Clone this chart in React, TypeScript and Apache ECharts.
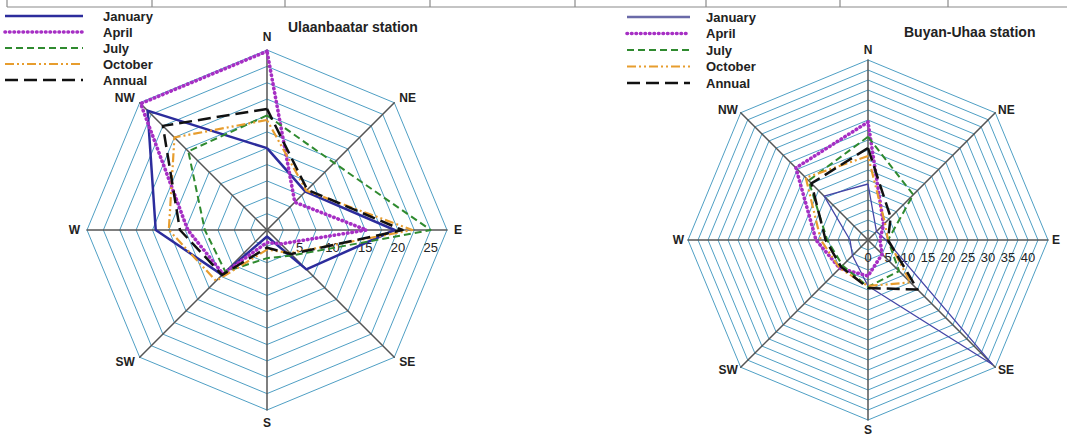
import React, { useEffect, useRef } from "react";
import * as echarts from "echarts";

// Direction order on the radar (ECharts places indicators counter-clockwise from the top)
const directions = ["N", "NW", "W", "SW", "S", "SE", "E", "NE"];
// Values below are listed in compass order: N, NE, E, SE, S, SW, W, NW
const compass = ["N", "NE", "E", "SE", "S", "SW", "W", "NW"];
const seriesNames = ["January", "April", "July", "October", "Annual"];

// Ulaanbaatar station (%)
const ubJanuary = [12.5, 8.3, 19.5, 8.5, 1.0, 9.7, 17.0, 25.8];
const ubApril = [27.3, 6.0, 15.2, 3.0, 1.9, 9.5, 12.1, 27.3];
const ubJuly = [17.5, 14.5, 25.0, 5.5, 4.3, 9.0, 9.5, 17.0];
const ubOctober = [16.8, 8.5, 22.2, 5.0, 3.0, 11.0, 15.0, 20.0];
const ubAnnual = [18.5, 8.7, 20.7, 5.2, 2.7, 9.7, 13.3, 22.5];
const ubMax = 27.5;

// Buyan-Uhaa station (%)
const buJanuary = [14.0, 3.0, 4.5, 44.0, 11.5, 5.5, 4.5, 15.5];
const buApril = [29.5, 5.5, 3.0, 5.0, 9.0, 10.0, 13.0, 25.5];
const buJuly = [25.8, 16.0, 5.0, 11.0, 11.7, 9.0, 10.2, 21.0];
const buOctober = [21.0, 6.0, 5.0, 15.0, 11.5, 10.0, 11.8, 22.0];
const buAnnual = [23.0, 8.0, 5.0, 17.5, 12.0, 9.5, 10.6, 20.0];
const buMax = 45;

const FONT = "'Liberation Sans', Arial, sans-serif";

const styles = [
  { color: "#2c2c9c", type: "solid" as any, width: 2.5, cap: "butt" },
  { color: "#a62fc4", type: [0.5, 4] as any, width: 3.6, cap: "round" },
  { color: "#2f8a2f", type: [7, 4] as any, width: 2, cap: "butt" },
  { color: "#e79d2e", type: [9, 3, 2, 3, 2, 3] as any, width: 2.2, cap: "butt" },
  { color: "#111111", type: [13, 6] as any, width: 2.5, cap: "butt" },
];

function reorder(vals: number[]) {
  return directions.map((d) => vals[compass.indexOf(d)]);
}

function makeIndicators(max: number, labelFn: (v: number) => string) {
  return directions.map((d) =>
    d === "E"
      ? {
          name: d,
          min: 0,
          max,
          axisLabel: {
            show: true,
            formatter: labelFn,
            color: "#222",
            fontSize: 13,
            fontFamily: FONT,
            margin: -24,
          },
        }
      : { name: d, min: 0, max }
  );
}

function radarBase(center: number[], radius: number, split: number, indicator: any[], gap: number) {
  return {
    center,
    radius,
    startAngle: 90,
    shape: "polygon",
    splitNumber: split,
    indicator,
    nameGap: gap,
    axisName: { color: "#222", fontSize: 12, fontWeight: "bold", fontFamily: FONT },
    splitLine: { lineStyle: { color: "#4f9fc4", width: 1 } },
    splitArea: { show: false },
    axisLine: { lineStyle: { color: "#555", width: 1.5 } },
    axisTick: { show: false },
    axisLabel: { show: false },
  };
}

function legendGraphic(x1: number, x2: number, tx: number, y0: number, gap: number, janColor: string) {
  const els: any[] = [];
  seriesNames.forEach((n, i) => {
    const s = styles[i];
    const y = y0 + i * gap;
    els.push({
      type: "line",
      shape: { x1, y1: y, x2, y2: y },
      style: {
        stroke: i === 0 ? janColor : s.color,
        lineWidth: s.width,
        lineDash: s.type === "solid" ? null : s.type,
        lineCap: s.cap,
      },
    });
    els.push({
      type: "text",
      x: tx,
      y,
      style: {
        text: n,
        fill: "#222",
        font: `bold 13px ${FONT}`,
        verticalAlign: "middle",
      },
    });
  });
  return els;
}

export default function App() {
  const ref = useRef<HTMLDivElement>(null);
  useEffect(() => {
    if (!ref.current) return;
    const chart = echarts.init(ref.current, null, { renderer: "svg" });
    const ubSets = [ubJanuary, ubApril, ubJuly, ubOctober, ubAnnual];
    const buSets = [buJanuary, buApril, buJuly, buOctober, buAnnual];

    const mk = (sets: number[][], radarIndex: number, janColor: string, janWidth: number) => ({
      type: "radar",
      radarIndex,
      symbol: "none",
      data: sets.map((v, i) => ({
        name: seriesNames[i],
        value: reorder(v),
        lineStyle: {
          color: i === 0 ? janColor : styles[i].color,
          width: i === 0 ? janWidth : styles[i].width,
          type: styles[i].type,
          cap: styles[i].cap,
        },
        itemStyle: { color: i === 0 ? janColor : styles[i].color },
      })),
    });

    // top table border fragment
    const borderXs = [7, 152, 285, 430, 575, 706, 840, 948];
    const border: any[] = [
      { type: "line", shape: { x1: 7, y1: 7, x2: 1067, y2: 7 }, style: { stroke: "#8a8a8a", lineWidth: 1.2 } },
      ...borderXs.map((x) => ({
        type: "line",
        shape: { x1: x, y1: 0, x2: x, y2: 7 },
        style: { stroke: "#8a8a8a", lineWidth: 1.2 },
      })),
    ];

    chart.setOption({
      animation: false,
      backgroundColor: "#ffffff",
      title: [
        {
          text: "Ulaanbaatar station",
          left: 288,
          top: 20,
          padding: 0,
          textStyle: { fontSize: 14, fontWeight: "bold", color: "#222", fontFamily: FONT },
        },
        {
          text: "Buyan-Uhaa station",
          left: 904,
          top: 25,
          padding: 0,
          textStyle: { fontSize: 14, fontWeight: "bold", color: "#222", fontFamily: FONT },
        },
      ],
      radar: [
        radarBase(
          [267, 230],
          180,
          11,
          makeIndicators(ubMax, (v: number) => (v > 0 && v % 5 === 0 && v < 27 ? String(v) : "")),
          7
        ),
        radarBase(
          [868, 240],
          180,
          18,
          makeIndicators(buMax, (v: number) => (v % 5 === 0 && v < 45 ? String(v) : "")),
          4
        ),
      ],
      series: [mk(ubSets, 0, "#2c2c9c", 2.5), mk(buSets, 1, "#4545a6", 1.3)],
      graphic: [
        ...border,
        ...legendGraphic(5, 83, 103, 16, 16, "#2c2c9c"),
        ...legendGraphic(627, 690, 706, 17, 16.5, "#6a6aa8"),
      ],
    });
    return () => chart.dispose();
  }, []);
  return (
    <div
      ref={ref}
      style={{ position: "absolute", left: 0, top: 0, width: 1067, height: 436, background: "#fff" }}
    />
  );
}
